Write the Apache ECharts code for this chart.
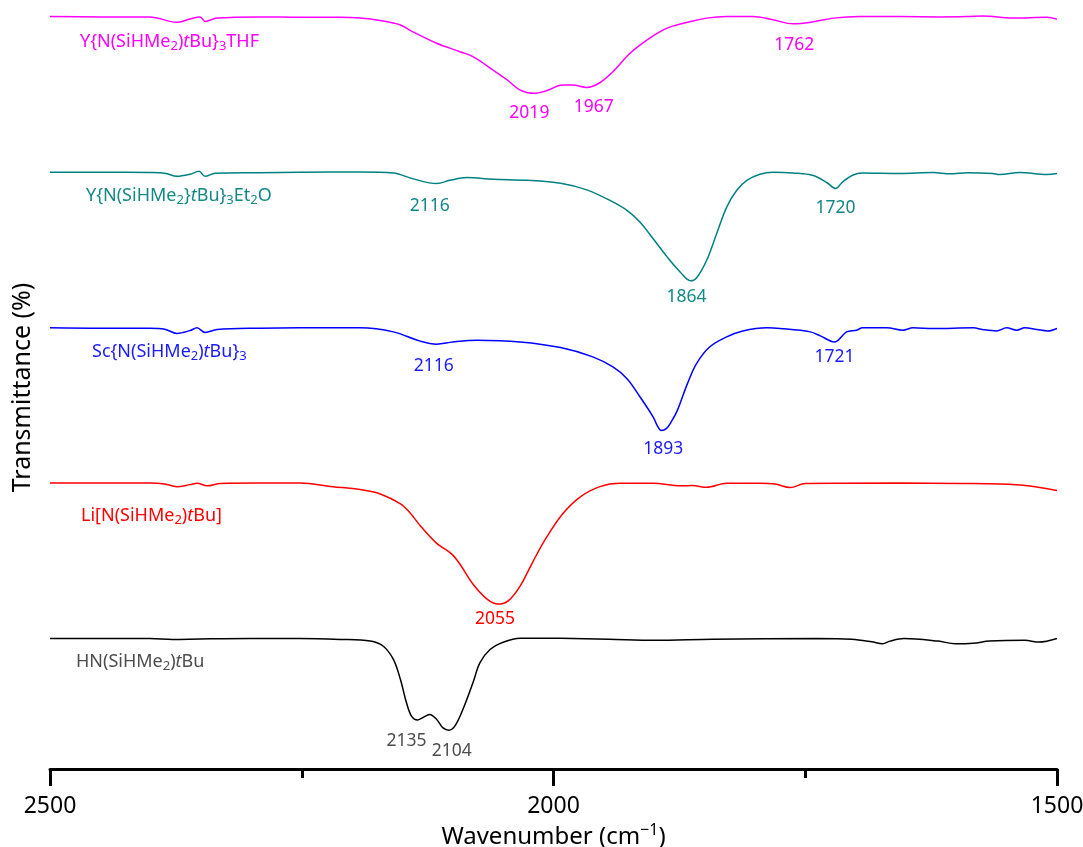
<!DOCTYPE html>
<html>
<head>
<meta charset="utf-8">
<script src="https://cdn.jsdelivr.net/npm/echarts@6/dist/echarts.min.js"></script>
<style>
  html, body { margin: 0; padding: 0; background: #fff; }
  #chart { width: 1083px; height: 847px; }
</style>
</head>
<body>
<div id="chart"></div>
<script>
// IR spectra (2500–1500 cm⁻¹) of five compounds, stacked with a vertical offset.
// Each spectrum: wavenumbers (cm⁻¹) and relative transmittance (%).

// Y{N(SiHMe2)tBu}3THF
const wnTHF = [2500, 2450, 2401, 2374, 2361, 2351, 2346, 2334, 2292, 2252, 2212, 2192, 2172, 2152, 2140, 2116, 2093, 2080, 2060, 2046, 2033, 2019, 2007, 1991, 1981, 1967, 1954, 1941, 1924, 1907, 1891, 1881, 1864, 1848, 1828, 1802, 1782, 1762, 1742, 1722, 1696, 1656, 1616, 1589, 1574, 1544, 1510, 1500];
const tTHF = [98.2, 98, 98, 94.5, 96.7, 98, 95.1, 97.2, 98, 97.7, 97.7, 97.2, 95.6, 92.8, 88.5, 81.0, 75.6, 72.4, 63.8, 57.4, 50.9, 48.8, 50.5, 54.1, 54.1, 52.6, 55.6, 62.7, 74.6, 83.2, 89.6, 92.2, 95.0, 97.2, 98.2, 98.2, 96.1, 93.5, 94.8, 97.2, 98.2, 98.2, 98, 98.2, 98.5, 97.2, 97.8, 96.5];

// Y{N(SiHMe2)tBu}3Et2O
const wnEt2O = [2500, 2450, 2401, 2386, 2374, 2361, 2352, 2346, 2336, 2292, 2252, 2192, 2159, 2140, 2116, 2103, 2086, 2060, 2026, 1993, 1967, 1944, 1927, 1914, 1901, 1887, 1874, 1864, 1858, 1848, 1838, 1828, 1818, 1808, 1795, 1782, 1762, 1742, 1728, 1720, 1713, 1703, 1693, 1656, 1623, 1606, 1589, 1564, 1557, 1537, 1510, 1500];
const tEt2O = [98, 98, 97.8, 97.4, 95.4, 96.7, 98.6, 95.4, 97.4, 97.7, 98, 98.2, 97.5, 93.9, 90.7, 92.8, 94.6, 93.5, 92.8, 90.9, 86.7, 79.9, 73.5, 65.9, 55.2, 43.4, 33.7, 28.2, 30.0, 41.2, 58.5, 75.6, 86.4, 92.8, 96.7, 98, 97.5, 95.9, 91.1, 87.5, 91.7, 96.1, 97.5, 97.2, 97.8, 97.0, 97.7, 97.2, 96.5, 97.8, 96.5, 97.2];

// Sc{N(SiHMe2)tBu}3
const wnSc = [2500, 2450, 2401, 2386, 2374, 2361, 2354, 2346, 2334, 2292, 2252, 2192, 2159, 2133, 2116, 2100, 2076, 2033, 1993, 1961, 1941, 1927, 1914, 1901, 1897, 1893, 1888, 1883, 1877, 1867, 1858, 1845, 1828, 1812, 1788, 1775, 1745, 1735, 1721, 1709, 1699, 1693, 1669, 1653, 1643, 1623, 1583, 1574, 1560, 1550, 1540, 1532, 1520, 1509, 1500];
const tSc = [98, 97.7, 97.7, 97, 94.3, 96.1, 97.9, 94.9, 96.8, 97.7, 98, 97.9, 95.3, 89.5, 87.4, 88.8, 89.9, 88.8, 85.2, 79.2, 72.7, 65.2, 53.4, 40.5, 35.0, 31.8, 33.0, 37.5, 44.8, 62.0, 74.9, 85.6, 92.1, 95.9, 97.9, 97.5, 95.3, 92.7, 88.8, 95.3, 96.4, 97.9, 97.9, 96.4, 97.9, 97.5, 97.9, 96.8, 95.9, 97.9, 96.4, 97.9, 96.8, 95.9, 97.5];

// Li[N(SiHMe2)tBu]
const wnLi = [2500, 2450, 2401, 2386, 2374, 2361, 2354, 2344, 2331, 2292, 2252, 2219, 2192, 2172, 2152, 2143, 2131, 2116, 2101, 2093, 2080, 2066, 2055, 2045, 2033, 2020, 2007, 1991, 1974, 1954, 1934, 1901, 1874, 1862, 1848, 1828, 1795, 1780, 1765, 1750, 1656, 1596, 1557, 1527, 1500];
const tLi = [98, 98, 98, 97.4, 95.7, 97, 97.9, 96.2, 97.7, 98, 98, 95.7, 93.8, 91.0, 84.6, 79.2, 69.5, 59.2, 52.3, 45.9, 33.0, 23.3, 20.1, 22.2, 31.9, 48.0, 63.0, 78.1, 88.8, 95.7, 97.9, 97.9, 96.2, 96.4, 95.3, 97.9, 97.9, 97.4, 95.1, 97.7, 98, 97.7, 97.4, 96.1, 93.2];

// HN(SiHMe2)tBu
const wnHN = [2500, 2450, 2401, 2378, 2351, 2301, 2252, 2212, 2182, 2169, 2159, 2152, 2146, 2141, 2135, 2130, 2123, 2116, 2110, 2104, 2098, 2090, 2080, 2073, 2063, 2050, 2033, 1993, 1945, 1900, 1842, 1738, 1704, 1684, 1673, 1666, 1652, 1618, 1601, 1583, 1567, 1532, 1518, 1500];
const tHN = [98, 98, 98, 97.4, 97.7, 98, 98, 97.4, 96.3, 93, 84.5, 71.6, 56.6, 48.0, 45.5, 47.0, 49.1, 45.9, 40.6, 39.0, 41.6, 52.3, 69.5, 82.4, 90.9, 95.6, 98.2, 98.1, 97.5, 96.8, 97.5, 98, 97.5, 95.9, 94.6, 96.3, 98, 96.3, 94.6, 95.0, 96.3, 96.8, 95.7, 98];

// Labelled band positions (cm⁻¹)
const peaksTHF = [2019, 1967, 1762];
const peaksEt2O = [2116, 1864, 1720];
const peaksSc = [2116, 1893, 1721];
const peaksLi = [2055];
const peaksHN = [2135, 2104];

// Vertical stacking offset of each spectrum
const offsets = [400, 300, 200, 100, 0];

// Compound names in rich-text markup: {s|..} subscript, {i|..} italic
const names = [
  'Y{N(SiHMe{s|2}){i|t}Bu}{s|3}THF',
  'Y{N(SiHMe{s|2}}{i|t}Bu}{s|3}Et{s|2}O',
  'Sc{N(SiHMe{s|2}){i|t}Bu}{s|3}',
  'Li[N(SiHMe{s|2}){i|t}Bu]',
  'HN(SiHMe{s|2}){i|t}Bu'
];

const FONT = '"Noto Sans", "Open Sans", sans-serif';

const specs = [
  { wn: wnTHF, t: tTHF, peaks: peaksTHF, line: '#ff00ff', text: '#ff00ff',
    namePos: [80, 42], peakOffsets: [[-5, 20], [7, 20], [1, 21]] },
  { wn: wnEt2O, t: tEt2O, peaks: peaksEt2O, line: '#008080', text: '#148787',
    namePos: [86, 196], peakOffsets: [[-7, 22], [-4, 16], [0, 19]] },
  { wn: wnSc, t: tSc, peaks: peaksSc, line: '#0000ff', text: '#1a1aff',
    namePos: [92, 352], peakOffsets: [[-3, 22], [2, 18], [0, 15]] },
  { wn: wnLi, t: tLi, peaks: peaksLi, line: '#ff0000', text: '#ff0000',
    namePos: [81, 516], peakOffsets: [[-3, 15]] },
  { wn: wnHN, t: tHN, peaks: peaksHN, line: '#000000', text: '#4d4d4d',
    namePos: [76, 662], peakOffsets: [[-11, 21], [3, 21]] }
];

function richFor(color) {
  return {
    s: { fontSize: 13, lineHeight: 12, verticalAlign: 'bottom', color: color, fontFamily: FONT },
    i: { fontSize: 18, fontStyle: 'italic', color: color, fontFamily: FONT }
  };
}

const series = specs.map(function (sp, k) {
  const off = offsets[k];
  const data = sp.wn.map(function (w, i) { return [w, sp.t[i] + off]; });
  const peakMarks = sp.peaks.map(function (p, j) {
    const idx = sp.wn.indexOf(p);
    return {
      coord: [p, sp.t[idx] + off],
      value: p,
      label: { offset: sp.peakOffsets[j], formatter: String(p) }
    };
  });
  const nameMark = {
    x: sp.namePos[0], y: sp.namePos[1],
    label: {
      formatter: names[k], align: 'left', fontSize: 18, lineHeight: 22,
      rich: richFor(sp.text)
    }
  };
  return {
    type: 'line',
    data: data,
    showSymbol: false,
    smooth: 0.35,
    lineStyle: { color: sp.line, width: 1.5 },
    animation: false,
    silent: true,
    markPoint: {
      symbol: 'circle',
      symbolSize: 0,
      animation: false,
      silent: true,
      label: {
        show: true, position: 'inside', color: sp.text,
        fontSize: 17.5, fontFamily: FONT
      },
      data: peakMarks.concat([nameMark])
    }
  };
});

const chart = echarts.init(document.getElementById('chart'), null, { renderer: 'canvas' });
chart.setOption({
  backgroundColor: '#ffffff',
  animation: false,
  grid: { left: 50, right: 26, top: 6, bottom: 78, outerBoundsMode: 'none', containLabel: false },
  xAxis: {
    type: 'value', min: 1500, max: 2500, interval: 500, inverse: true,
    axisLine: { lineStyle: { color: '#000', width: 3 } },
    axisTick: { length: 17, lineStyle: { color: '#000', width: 3 } },
    minorTick: { show: true, splitNumber: 2, length: 9, lineStyle: { color: '#000', width: 3 } },
    splitLine: { show: false },
    axisLabel: {
      fontSize: 23, color: '#000', margin: 26, fontFamily: FONT,
      formatter: function (v) { return String(v); }
    },
    name: 'Wavenumber (cm{sup|−1})',
    nameLocation: 'middle',
    nameGap: 52,
    nameTextStyle: {
      fontSize: 24, color: '#000', fontFamily: FONT, lineHeight: 28,
      rich: { sup: { fontSize: 16, verticalAlign: 'top', lineHeight: 18, color: '#000', fontFamily: FONT } }
    }
  },
  yAxis: {
    type: 'value', min: 14, max: 505,
    axisLine: { show: false }, axisTick: { show: false },
    axisLabel: { show: false }, splitLine: { show: false },
    name: 'Transmittance (%)',
    nameLocation: 'middle',
    nameRotate: 90,
    nameGap: 15,
    nameTextStyle: { fontSize: 25, color: '#000', fontFamily: FONT }
  },
  series: series
});
</script>
</body>
</html>
